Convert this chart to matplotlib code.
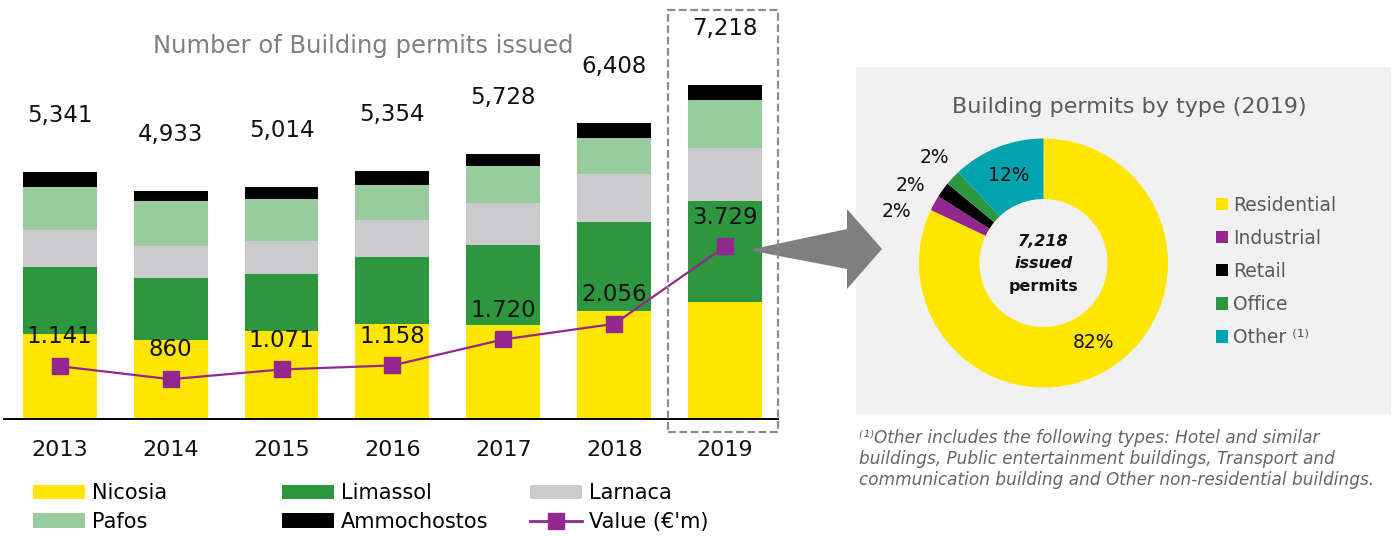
import matplotlib
matplotlib.use("Agg")
import matplotlib.pyplot as plt
import numpy as np
from matplotlib.patches import Patch, Rectangle, Polygon
from matplotlib.lines import Line2D

# ---------------- data ----------------
years = ["2013", "2014", "2015", "2016", "2017", "2018", "2019"]
nicosia = [1837, 1715, 1892, 2056, 2040, 2344, 2534]
limassol = [1446, 1332, 1247, 1446, 1726, 1925, 2184]
larnaca = [811, 688, 716, 789, 900, 1025, 1143]
pafos = [915, 968, 893, 775, 811, 775, 1040]
ammochostos = [332, 230, 266, 288, 251, 339, 317]
totals = [5341, 4933, 5014, 5354, 5728, 6408, 7218]
value_m = [1141, 860, 1071, 1158, 1720, 2056, 3729]

type_labels = ["Residential", "Industrial", "Retail", "Office", "Other \u207d\u00b9\u207e"]
type_shares = [82, 2, 2, 2, 12]

# ---------------- style ----------------
W, H = 1395, 536
C_NIC = "#FFE600"
C_LIM = "#2C973E"
C_LAR = "#CBCBCD"
C_PAF = "#98CB9D"
C_AMM = "#000000"
C_VAL = "#91278F"
C_TEAL = "#00A3AE"
pie_colors = [C_NIC, C_VAL, "#000000", C_LIM, C_TEAL]

plt.rcParams["font.family"] = ["DejaVu Sans"]

def fx(px):
    return px / W

def fy(py):
    return 1 - py / H

fig = plt.figure(figsize=(W / 100, H / 100), dpi=100)

# ---------------- bar chart ----------------
px_per_unit = 0.04626
ax_left, ax_right, ax_base, ax_top = 4.25, 778, 419, 3
ymax = (ax_base - ax_top) / px_per_unit
ax = fig.add_axes([fx(ax_left), fy(ax_base), (ax_right - ax_left) / W, (ax_base - ax_top) / H])
x = np.arange(len(years))
bw = 0.667
series = [(nicosia, C_NIC, "Nicosia"), (limassol, C_LIM, "Limassol"),
          (larnaca, C_LAR, "Larnaca"), (pafos, C_PAF, "Pafos"),
          (ammochostos, C_AMM, "Ammochostos")]
bottom = np.zeros(len(years))
for vals, col, lab in series:
    ax.bar(x, vals, bw, bottom=bottom, color=col, label=lab, zorder=2)
    bottom += np.array(vals)

ax.plot(x, value_m, color=C_VAL, lw=1.6, marker="s", ms=11, zorder=5)
for xi, v in zip(x, value_m):
    ax.annotate(f"{v:,}".replace(",", "."), (xi, v), xytext=(0, 16.5),
                textcoords="offset points", ha="center", va="baseline",
                fontsize=16.5, color="#111111", zorder=6)
for xi, t, b in zip(x, totals, bottom):
    ax.annotate(f"{t:,}", (xi, b), xytext=(0, 36), textcoords="offset points",
                ha="center", va="baseline", fontsize=16.5, color="#111111")

ax.set_xlim(-0.5, (ax_right - ax_left) / 110.9 - 0.5)
ax.set_ylim(0, ymax)
ax.set_xticks(x)
ax.set_xticklabels(years, fontsize=16, color="#111111")
ax.tick_params(axis="x", length=0, pad=15)
ax.set_yticks([])
for s in ["left", "right", "top"]:
    ax.spines[s].set_visible(False)
ax.spines["bottom"].set_linewidth(1.4)
ax.spines["bottom"].set_color("#000000")
ax.patch.set_visible(False)

fig.text(fx(363.5), fy(52.7), "Number of Building permits issued", ha="center",
         va="baseline", fontsize=17.5, color="#808080")

# dashed highlight around 2019
fig.add_artist(Rectangle((fx(668), fy(432)), (778 - 668) / W, (432 - 10) / H,
                         transform=fig.transFigure, fill=False, edgecolor="#8C8C8C",
                         lw=1.6, linestyle=(0, (3.5, 1.6)), zorder=10))

# bottom legends (three columns)
leg_handles = {
    "Nicosia": Patch(facecolor=C_NIC), "Pafos": Patch(facecolor=C_PAF),
    "Limassol": Patch(facecolor=C_LIM), "Ammochostos": Patch(facecolor=C_AMM),
    "Larnaca": Patch(facecolor=C_LAR),
    "Value (\u20ac'm)": Line2D([], [], color=C_VAL, lw=2, marker="s", ms=11),
}
cols = [["Nicosia", "Pafos"], ["Limassol", "Ammochostos"], ["Larnaca", "Value (\u20ac'm)"]]
col_x = [33, 282, 530]
for names, cx in zip(cols, col_x):
    fig.legend([leg_handles[n] for n in names], names, loc="center left",
               bbox_to_anchor=(fx(cx), fy(507.4)), bbox_transform=fig.transFigure,
               frameon=False, fontsize=15, handlelength=2.5, handleheight=0.67,
               handletextpad=0.31, labelspacing=0.42, borderpad=0, borderaxespad=0)

# ---------------- right panel ----------------
fig.add_artist(Rectangle((fx(856), fy(414)), (1391 - 856) / W, (414 - 67) / H,
                         transform=fig.transFigure, facecolor="#F1F1F1",
                         edgecolor="none", zorder=0))

arrow_pts = [(753, 249), (847, 229), (847, 209), (882, 249), (847, 289), (847, 269), (753, 251)]
fig.add_artist(Polygon([(fx(a), fy(b)) for a, b in arrow_pts], closed=True,
                       transform=fig.transFigure, facecolor="#7F7F7F",
                       edgecolor="none", zorder=3))

cx_p, cy_p, r_p = 1043.5, 263, 124.5
axp = fig.add_axes([fx(cx_p - r_p), fy(cy_p + r_p), 2 * r_p / W, 2 * r_p / H])
wedges, _ = axp.pie(type_shares, colors=pie_colors, startangle=90, counterclock=False,
                    radius=1, wedgeprops=dict(width=0.486, linewidth=0))
axp.set_xlim(-1, 1)
axp.set_ylim(-1, 1)
axp.set_aspect("equal")

# outside-label placement for the thin slices: (angle shift in degrees, radius)
outer_place = {1: (9.6, 1.255), 2: (6.0, 1.238), 3: (-0.9, 1.215)}
for i, (w, p) in enumerate(zip(wedges, type_shares)):
    shift, r = outer_place.get(i, (0.0, 0.757))
    mid = np.deg2rad((w.theta1 + w.theta2) / 2 + shift)
    axp.text(r * np.cos(mid), r * np.sin(mid), f"{p}%", ha="center", va="center",
             fontsize=13.5, color="#111111", clip_on=False)

axp.text(0, 0.17, f"{totals[-1]:,}", ha="center", va="center", fontsize=11.5,
         fontweight="bold", fontstyle="italic", color="#111111")
axp.text(0, -0.005, "issued", ha="center", va="center", fontsize=11.5,
         fontweight="bold", fontstyle="italic", color="#111111")
axp.text(0, -0.185, "permits", ha="center", va="center", fontsize=11.5,
         fontweight="bold", color="#111111")

fig.text(fx(1129.7), fy(113.3), "Building permits by type (2019)", ha="center",
         va="baseline", fontsize=16, color="#595959")

fig.legend([Patch(facecolor=c) for c in pie_colors], type_labels, loc="center left",
           bbox_to_anchor=(fx(1216), fy(271.5)), bbox_transform=fig.transFigure,
           frameon=False, fontsize=13.5, handlelength=0.62, handleheight=0.62,
           handletextpad=0.3, labelspacing=0.75, borderpad=0, borderaxespad=0,
           labelcolor="#595959")

foot = ["\u207d\u00b9\u207eOther includes the following types: Hotel and similar",
        "buildings, Public entertainment buildings, Transport and",
        "communication building and Other non-residential buildings."]
for line, yy in zip(foot, [438, 459.5, 480]):
    fig.text(fx(859), fy(yy), line, ha="left", va="center", fontsize=12.2,
             fontstyle="italic", color="#666666")

fig.savefig("out.png", dpi=100)
